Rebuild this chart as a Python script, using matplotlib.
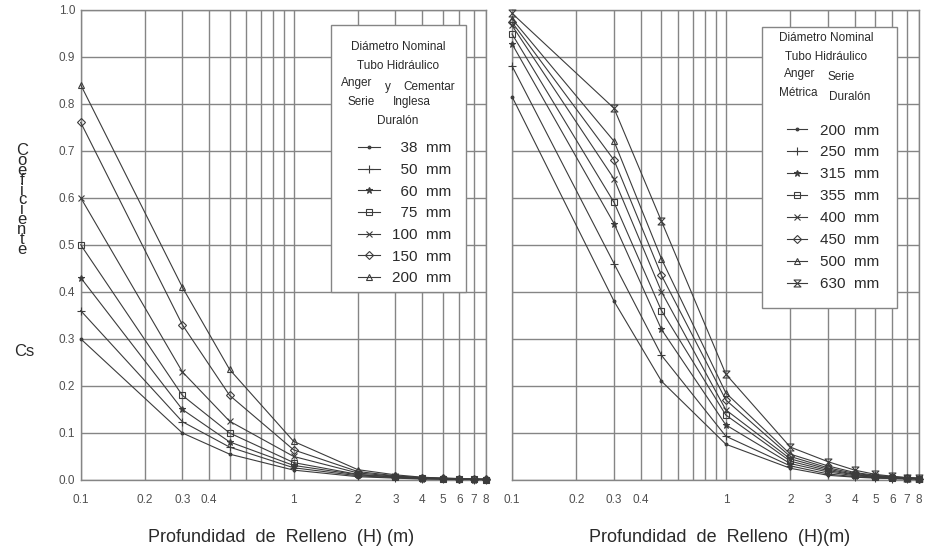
import matplotlib
matplotlib.use("Agg")
import matplotlib.pyplot as plt
from matplotlib.patches import Rectangle
from matplotlib.path import Path
from matplotlib.ticker import FixedLocator, FixedFormatter

plt.rcParams['font.family'] = ['Liberation Sans', 'DejaVu Sans']

# ---------------- data ----------------
depth_m = [0.1, 0.3, 0.5, 1, 2, 3, 4, 5, 6, 7, 8]

# Cementar / Inglesa / Duralón pipes (left chart)
left_sizes = ["38", "50", "60", "75", "100", "150", "200"]
cs_38 = [0.30, 0.10, 0.055, 0.021, 0.007, 0.004, 0.002, 0.002, 0.001, 0.001, 0.001]
cs_50 = [0.36, 0.124, 0.07, 0.026, 0.009, 0.005, 0.003, 0.002, 0.002, 0.001, 0.001]
cs_60 = [0.43, 0.15, 0.081, 0.031, 0.011, 0.006, 0.003, 0.002, 0.002, 0.001, 0.001]
cs_75 = [0.50, 0.18, 0.10, 0.037, 0.012, 0.007, 0.004, 0.003, 0.002, 0.002, 0.001]
cs_100 = [0.60, 0.23, 0.125, 0.05, 0.015, 0.008, 0.005, 0.003, 0.002, 0.002, 0.001]
cs_150 = [0.76, 0.33, 0.18, 0.064, 0.018, 0.009, 0.005, 0.004, 0.003, 0.002, 0.002]
cs_200 = [0.84, 0.41, 0.235, 0.082, 0.022, 0.011, 0.006, 0.004, 0.003, 0.002, 0.002]
left_series = [cs_38, cs_50, cs_60, cs_75, cs_100, cs_150, cs_200]

# Métrica / Duralón pipes (right chart)
right_sizes = ["200", "250", "315", "355", "400", "450", "500", "630"]
cm_200 = [0.815, 0.38, 0.21, 0.076, 0.025, 0.010, 0.006, 0.004, 0.003, 0.002, 0.002]
cm_250 = [0.88, 0.46, 0.265, 0.093, 0.030, 0.013, 0.007, 0.005, 0.003, 0.003, 0.002]
cm_315 = [0.927, 0.545, 0.32, 0.117, 0.035, 0.017, 0.009, 0.006, 0.004, 0.003, 0.002]
cm_355 = [0.948, 0.59, 0.36, 0.138, 0.040, 0.020, 0.011, 0.007, 0.005, 0.004, 0.003]
cm_400 = [0.966, 0.64, 0.40, 0.149, 0.045, 0.023, 0.012, 0.008, 0.005, 0.004, 0.003]
cm_450 = [0.973, 0.68, 0.435, 0.17, 0.050, 0.026, 0.014, 0.009, 0.006, 0.004, 0.003]
cm_500 = [0.98, 0.72, 0.47, 0.185, 0.055, 0.030, 0.016, 0.010, 0.007, 0.005, 0.004]
cm_630 = [0.992, 0.79, 0.55, 0.225, 0.070, 0.039, 0.021, 0.012, 0.008, 0.005, 0.004]
right_series = [cm_200, cm_250, cm_315, cm_355, cm_400, cm_450, cm_500, cm_630]

x_ticks = [0.1, 0.2, 0.3, 0.4, 0.5, 0.6, 0.7, 0.8, 0.9, 1, 2, 3, 4, 5, 6, 7, 8]
x_tick_labels = ["0.1", "0.2", "0.3", "0.4", "", "", "", "", "", "1",
                 "2", "3", "4", "5", "6", "7", "8"]
y_ticks = [0.0, 0.1, 0.2, 0.3, 0.4, 0.5, 0.6, 0.7, 0.8, 0.9, 1.0]
y_tick_labels = ["0.0", "0.1", "0.2", "0.3", "0.4", "0.5", "0.6", "0.7", "0.8", "0.9", "1.0"]

# ---------------- style ----------------
W, H = 927, 550
LINE_C = "#3c3c3c"
GRID_C = "#858585"
TEXT_C = "#2a2a2a"

hourglass = Path([(-1, 1), (1, 1), (-1, -1), (1, -1), (-1, 1)],
                 [Path.MOVETO, Path.LINETO, Path.LINETO, Path.LINETO, Path.CLOSEPOLY])

left_markers = [".", "+", "*", "s", "x", "D", "^"]
right_markers = [".", "+", "*", "s", "x", "D", "^", hourglass]
marker_sizes = {".": 4, "+": 6, "*": 4.8, "s": 4.5, "x": 4.8, "D": 4, "^": 5}


def fx(px):
    return px / W


def fy(py):
    return 1 - py / H


fig = plt.figure(figsize=(W / 100, H / 100), dpi=100)
ax_l = fig.add_axes([fx(80.7), fy(480), fx(486) - fx(80.7), fy(9.5) - fy(480)])
ax_r = fig.add_axes([fx(512), fy(480), fx(919) - fx(512), fy(9.5) - fy(480)])


def setup_axes(ax, show_y):
    ax.set_xscale("log")
    ax.set_xlim(0.1, 8)
    ax.set_ylim(0, 1.0)
    ax.xaxis.set_major_locator(FixedLocator(x_ticks))
    ax.xaxis.set_major_formatter(FixedFormatter(x_tick_labels))
    ax.xaxis.set_minor_locator(FixedLocator([]))
    ax.yaxis.set_major_locator(FixedLocator(y_ticks))
    if show_y:
        ax.yaxis.set_major_formatter(FixedFormatter(y_tick_labels))
    else:
        ax.set_yticklabels([])
    ax.tick_params(axis="both", length=0, labelsize=8.5, colors="#505050")
    ax.tick_params(axis="x", pad=10)
    ax.tick_params(axis="y", pad=4)
    ax.grid(True, color=GRID_C, linewidth=1.0)
    ax.set_axisbelow(True)
    for sp in ax.spines.values():
        sp.set_color(GRID_C)
        sp.set_linewidth(1.0)


setup_axes(ax_l, True)
setup_axes(ax_r, False)


def draw_series(ax, series, markers):
    lines = []
    for vals, mk in zip(series, markers):
        is_str = isinstance(mk, str)
        ms = marker_sizes.get(mk, 5) if is_str else 5
        hollow = (not is_str) or mk in ("s", "D", "^")
        ln, = ax.plot(depth_m, vals, color=LINE_C, linewidth=0.8,
                      marker=mk, markersize=ms, markeredgewidth=0.8,
                      markerfacecolor="none" if hollow else LINE_C,
                      markeredgecolor=LINE_C, clip_on=False, zorder=3)
        lines.append(ln)
    return lines


l_lines = draw_series(ax_l, left_series, left_markers)
r_lines = draw_series(ax_r, right_series, right_markers)

# ---------------- legend boxes ----------------
for ax, (x0, y0, x1, y1) in ((ax_l, (330.7, 25, 465.7, 291.7)),
                              (ax_r, (762, 26.7, 896.7, 308))):
    ax.add_patch(Rectangle((fx(x0), fy(y1)), fx(x1) - fx(x0), fy(y0) - fy(y1),
                           transform=fig.transFigure, facecolor="white",
                           edgecolor=GRID_C, linewidth=1.0, zorder=5, clip_on=False))

title_fs = 8.5
left_titles = [("Diámetro Nominal", 398, 46.7), ("Tubo Hidráulico", 398, 66),
               ("Anger", 357, 83), ("y", 388, 87), ("Cementar", 429, 87),
               ("Serie", 361, 102), ("Inglesa", 412, 102), ("Duralón", 398, 121)]
right_titles = [("Diámetro Nominal", 826, 38.3), ("Tubo Hidráulico", 826, 57.3),
                ("Anger", 800, 74), ("Serie", 841, 77),
                ("Métrica", 798.5, 93), ("Duralón", 850, 96.7)]
for txt, px, py in left_titles + right_titles:
    fig.text(fx(px), fy(py), txt, ha="center", va="center", fontsize=title_fs,
             color=TEXT_C, zorder=10)

fig_sp = "\u2007"
left_labels = [(fig_sp if len(s) == 2 else "") + s + "  mm" for s in left_sizes]
right_labels = [s + "  mm" for s in right_sizes]

leg_l = ax_l.legend(l_lines, left_labels, loc="upper left",
                    bbox_to_anchor=(fx(358), fy(141.5)), bbox_transform=fig.transFigure,
                    frameon=False, fontsize=11, borderpad=0, borderaxespad=0,
                    handlelength=1.45, handletextpad=0.75, labelspacing=0.5,
                    numpoints=1, labelcolor=TEXT_C)
leg_l.set_zorder(8)
leg_r = ax_r.legend(r_lines, right_labels, loc="upper left",
                    bbox_to_anchor=(fx(786.7), fy(123.5)), bbox_transform=fig.transFigure,
                    frameon=False, fontsize=11, borderpad=0, borderaxespad=0,
                    handlelength=1.3, handletextpad=0.85, labelspacing=0.52,
                    numpoints=1, labelcolor=TEXT_C)
leg_r.set_zorder(8)

# ---------------- axis titles ----------------
fig.text(fx(22), fy(200), "\n".join("Coeficiente"), ha="center", va="center",
         fontsize=12, linespacing=0.57, color=TEXT_C)
fig.text(fx(24), fy(351), "Cs", ha="center", va="center", fontsize=12, color=TEXT_C)

fig.text(fx(281), fy(537), "Profundidad  de  Relleno  (H) (m)", ha="center",
         va="center", fontsize=13, color=TEXT_C)
fig.text(fx(720), fy(537), "Profundidad  de  Relleno  (H)(m)", ha="center",
         va="center", fontsize=13, color=TEXT_C)

fig.savefig("out.png", dpi=100)
